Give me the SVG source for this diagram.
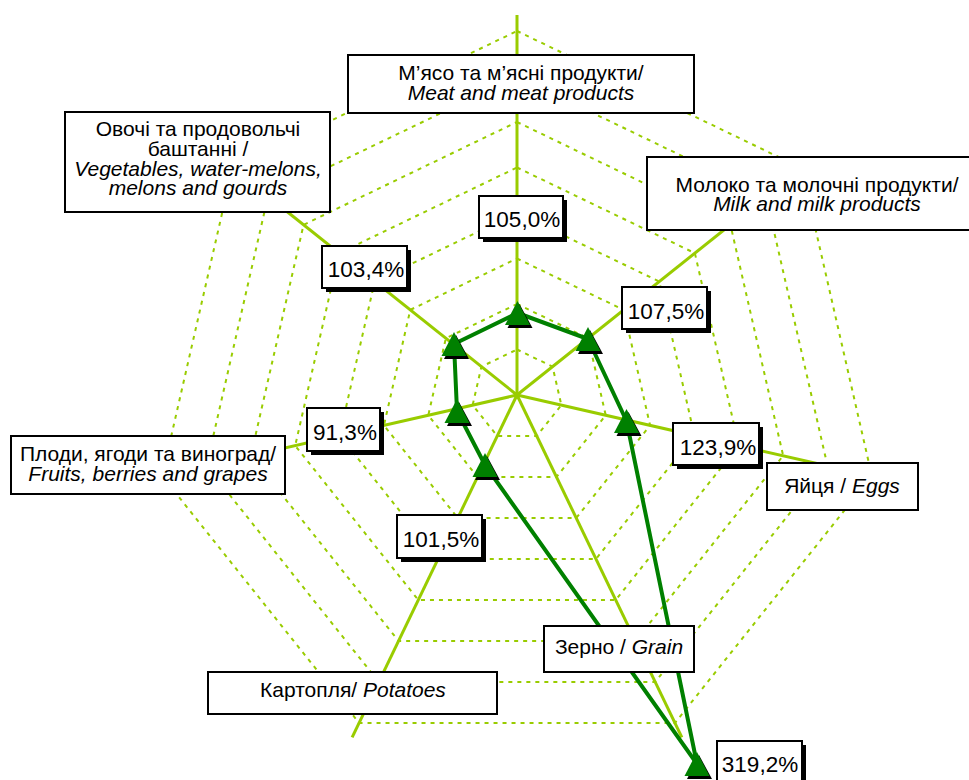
<svg xmlns="http://www.w3.org/2000/svg" width="969" height="780" viewBox="0 0 969 780">
<style>
.grid{fill:none;stroke:#99CC00;stroke-width:2;stroke-dasharray:4 5}
.axis{stroke:#99CC00;stroke-width:3;fill:none}
.data{fill:none;stroke:#008000;stroke-width:4;stroke-linejoin:round}
.box{fill:#fff;stroke:#000;stroke-width:2}
.shadow{fill:#000}
.t{font-family:"Liberation Sans",Arial,sans-serif;font-size:21px;fill:#000;text-anchor:middle}
.p{font-family:"Liberation Sans",Arial,sans-serif;font-size:22.5px;fill:#000;text-anchor:middle}
.it{font-style:italic}
</style>
<defs>
<g id="tri">
<polygon points="2,-9 -10,15 15,15" fill="#000"/>
<polygon points="0,-12 -12.5,12 12.5,12" fill="#008000"/>
</g>
</defs>
<rect width="969" height="780" fill="#fff"/>
<g id="grid">
<polygon class="grid" points="517,349.5 552.57,366.63 561.36,405.12 536.74,435.99 497.26,435.99 472.64,405.12 481.43,366.63"/>
<polygon class="grid" points="517,304 588.15,338.26 605.72,415.25 556.48,476.99 477.52,476.99 428.28,415.25 445.85,338.26"/>
<polygon class="grid" points="517,258.5 623.72,309.89 650.08,425.37 576.22,517.98 457.78,517.98 383.92,425.37 410.28,309.89"/>
<polygon class="grid" points="517,213 659.29,281.52 694.44,435.5 595.97,558.98 438.03,558.98 339.56,435.5 374.71,281.52"/>
<polygon class="grid" points="517,167.5 694.87,253.16 738.8,445.62 615.71,599.97 418.29,599.97 295.2,445.62 339.13,253.16"/>
<polygon class="grid" points="517,122 730.44,224.79 783.16,455.75 635.45,640.96 398.55,640.96 250.84,455.75 303.56,224.79"/>
<polygon class="grid" points="517,76.5 766.01,196.42 827.52,465.87 655.19,681.96 378.81,681.96 206.48,465.87 267.99,196.42"/>
<polygon class="grid" points="517,31 801.59,168.05 871.87,476 674.93,722.95 359.07,722.95 162.13,476 232.41,168.05"/>
</g>
<g id="connectors">
<line class="axis" x1="517" y1="395" x2="517" y2="15"/>
<line class="axis" x1="517" y1="395" x2="814.1" y2="158.07"/>
<line class="axis" x1="517" y1="395" x2="887.47" y2="479.56"/>
<line class="axis" x1="517" y1="395" x2="681.87" y2="737.37"/>
<line class="axis" x1="517" y1="395" x2="352.13" y2="737.37"/>
<line class="axis" x1="517" y1="395" x2="146.53" y2="479.56"/>
<line class="axis" x1="517" y1="395" x2="219.9" y2="158.07"/>
<polygon class="data" points="517.5,313 588,339 626.5,421 697,764 485,465 457,411 454,344"/>
</g>
<g id="markers">
<use href="#tri" x="517.5" y="313"/>
<use href="#tri" x="588" y="339"/>
<use href="#tri" x="626.5" y="421"/>
<use href="#tri" x="697" y="764"/>
<use href="#tri" x="485" y="465"/>
<use href="#tri" x="457" y="411"/>
<use href="#tri" x="454" y="344"/>
</g>
<g id="node-meat">
<rect class="box" x="348" y="55" width="346" height="58"/>
<text class="t" x="521" y="80">М’ясо та м’ясні продукти/</text>
<text class="t it" x="521" y="100">Meat and meat products</text>
</g>
<g id="node-vegetables">
<rect class="box" x="65" y="112" width="265" height="100"/>
<text class="t" x="198" y="136">Овочі та продовольчі</text>
<text class="t" x="198" y="156">баштанні /</text>
<text class="t it" x="198" y="175.5">Vegetables, water-melons,</text>
<text class="t it" x="198" y="195">melons and gourds</text>
</g>
<g id="node-milk">
<rect class="box" x="647" y="157" width="340" height="73"/>
<text class="t" x="817" y="192">Молоко та молочні продукти/</text>
<text class="t it" x="817" y="211">Milk and milk products</text>
</g>
<g id="node-fruits">
<rect class="box" x="11" y="436" width="274" height="58"/>
<text class="t" x="148" y="461">Плоди, ягоди та виноград/</text>
<text class="t it" x="148" y="481">Fruits, berries and grapes</text>
</g>
<g id="node-eggs">
<rect class="box" x="767" y="463" width="151" height="47"/>
<text class="t" x="842" y="493">Яйця / <tspan class="it">Eggs</tspan></text>
</g>
<g id="node-grain">
<rect class="box" x="544" y="626" width="150" height="46"/>
<text class="t" x="619" y="654">Зерно / <tspan class="it">Grain</tspan></text>
</g>
<g id="node-potatoes">
<rect class="box" x="208" y="672" width="289" height="42"/>
<text class="t" x="353" y="697">Картопля/ <tspan class="it">Potatoes</tspan></text>
</g>
<g id="value-meat">
<rect class="shadow" x="483" y="200" width="84" height="42"/>
<rect class="box" x="479" y="196" width="84" height="42"/>
<text class="p" x="522" y="227">105,0%</text>
</g>
<g id="value-vegetables">
<rect class="shadow" x="326" y="250" width="85" height="42"/>
<rect class="box" x="322" y="246" width="85" height="42"/>
<text class="p" x="366" y="277">103,4%</text>
</g>
<g id="value-milk">
<rect class="shadow" x="626" y="291" width="85" height="42"/>
<rect class="box" x="622" y="287" width="85" height="42"/>
<text class="p" x="666" y="319">107,5%</text>
</g>
<g id="value-fruits">
<rect class="shadow" x="311" y="412" width="73" height="43"/>
<rect class="box" x="307" y="408" width="73" height="43"/>
<text class="p" x="345" y="440">91,3%</text>
</g>
<g id="value-eggs">
<rect class="shadow" x="677" y="427" width="86" height="42"/>
<rect class="box" x="673" y="423" width="86" height="42"/>
<text class="p" x="718" y="455">123,9%</text>
</g>
<g id="value-potatoes">
<rect class="shadow" x="401" y="519" width="85" height="43"/>
<rect class="box" x="397" y="515" width="85" height="43"/>
<text class="p" x="441" y="547">101,5%</text>
</g>
<g id="value-grain">
<rect class="shadow" x="721" y="745" width="85" height="45"/>
<rect class="box" x="717" y="741" width="85" height="45"/>
<text class="p" x="760" y="772">319,2%</text>
</g>
</svg>
